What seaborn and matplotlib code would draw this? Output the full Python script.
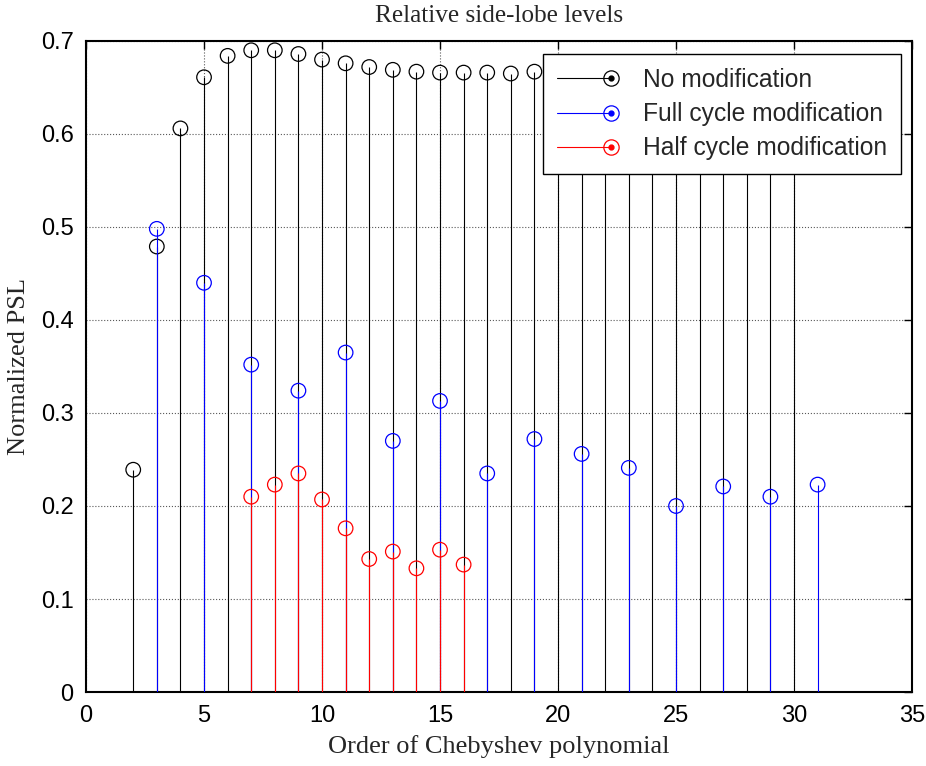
import matplotlib
matplotlib.use("Agg")
import matplotlib.pyplot as plt
import seaborn as sns
import pandas as pd
from matplotlib.lines import Line2D
from matplotlib.legend_handler import HandlerBase

# Peak side-lobe level (normalised) against Chebyshev polynomial order
orders_none = list(range(2, 31))
psl_none = [0.239, 0.479, 0.606, 0.661, 0.684, 0.690, 0.690, 0.686, 0.680,
            0.676, 0.672, 0.669, 0.667, 0.666, 0.666, 0.666, 0.665, 0.667,
            0.667, 0.667, 0.667, 0.667, 0.667, 0.667, 0.667, 0.667, 0.667,
            0.667, 0.667]

orders_full = list(range(3, 32, 2))
psl_full = [0.498, 0.440, 0.352, 0.324, 0.365, 0.270, 0.313, 0.235, 0.272,
            0.256, 0.241, 0.200, 0.221, 0.210, 0.223]

orders_half = list(range(7, 17))
psl_half = [0.210, 0.223, 0.235, 0.207, 0.176, 0.143, 0.151, 0.133, 0.153,
            0.137]

series_names = ["No modification", "Full cycle modification",
                "Half cycle modification"]
series_colors = ["black", "blue", "red"]

x_ticks = [0, 5, 10, 15, 20, 25, 30, 35]
y_ticks = [0, 0.1, 0.2, 0.3, 0.4, 0.5, 0.6, 0.7]
y_tick_labels = ["0", "0.1", "0.2", "0.3", "0.4", "0.5", "0.6", "0.7"]

sns.set_style("white")
plt.rcParams["font.family"] = ["Liberation Sans", "DejaVu Sans"]
serif = ["Liberation Serif", "DejaVu Serif"]

fig = plt.figure(figsize=(9.26, 7.66), dpi=100)
ax = fig.add_axes([0.0929, 0.0966, 0.892, 0.8499])

data = [(orders_none, psl_none), (orders_full, psl_full),
        (orders_half, psl_half)]

for i, ((xs, ys), name, col) in enumerate(zip(data, series_names,
                                                series_colors)):
    df = pd.DataFrame({"order": xs, "psl": ys})
    ax.vlines(df["order"], 0, df["psl"], colors=col, linewidth=0.8,
              zorder=3 + 2 * i)
    sns.scatterplot(data=df, x="order", y="psl", ax=ax, marker="o", s=110,
                    facecolor="none", edgecolor=col, linewidth=0.9,
                    zorder=4 + 2 * i, legend=False)

ax.set_xlim(0, 35)
ax.set_ylim(0, 0.7)
ax.set_xticks(x_ticks)
ax.set_yticks(y_ticks)
ax.set_yticklabels(y_tick_labels)
ax.tick_params(direction="in", length=6, width=1, top=True, right=True,
               labelsize=17, pad=9, colors="black")
for sp in ax.spines.values():
    sp.set_linewidth(1.5)
    sp.set_color("black")

ax.set_axisbelow(True)
ax.grid(True, linestyle=":", linewidth=0.8, color="0.35")

ax.set_title("Relative side-lobe levels", family=serif, fontsize=18.2,
             pad=14)
ax.set_xlabel("Order of Chebyshev polynomial", family=serif, fontsize=19,
              labelpad=6)
ax.set_ylabel("Normalized PSL", family=serif, fontsize=19, labelpad=8)


class StemHandler(HandlerBase):
    """Legend entry drawn as a stem: a line ending in a ring with a dot."""

    def create_artists(self, legend, orig_handle, xdescent, ydescent,
                       width, height, fontsize, trans):
        col = orig_handle.get_color()
        y = height / 2 - ydescent
        x0, x1 = -xdescent, width - xdescent
        line = Line2D([x0, x1], [y, y], color=col, linewidth=0.8)
        ring = Line2D([x1], [y], marker="o", markersize=11,
                      markerfacecolor="none", markeredgecolor=col,
                      markeredgewidth=0.9, linestyle="none")
        dot = Line2D([x1], [y], marker="o", markersize=3.5, color=col,
                     linestyle="none")
        for a in (line, ring, dot):
            a.set_transform(trans)
        return [line, ring, dot]


handles = [Line2D([], [], color=c) for c in series_colors]
leg = ax.legend(handles, series_names, loc="upper right",
                bbox_to_anchor=(0.9863, 0.9796), borderaxespad=0,
                fontsize=17.7, frameon=True, fancybox=False,
                handler_map={Line2D: StemHandler()}, handlelength=2.2,
                handletextpad=1.3, borderpad=0.55, labelspacing=0.42)
leg.get_frame().set_edgecolor("black")
leg.get_frame().set_linewidth(1.0)
leg.get_frame().set_facecolor("white")
leg.get_frame().set_alpha(1.0)
leg.set_zorder(20)

fig.savefig("out.png", dpi=100)
